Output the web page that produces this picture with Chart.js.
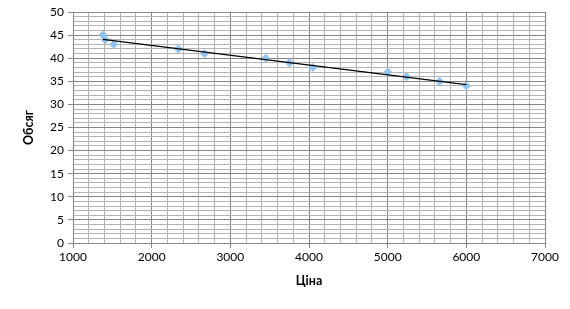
<!DOCTYPE html>
<html>
<head>
<meta charset="utf-8">
<script src="https://cdn.jsdelivr.net/npm/chart.js@4"></script>
<style>
  html, body { margin: 0; padding: 0; background: #fff; }
  #wrap { width: 570px; height: 309px; }
</style>
</head>
<body>
<div id="wrap"><canvas id="chart" width="570" height="309"></canvas></div>
<script>
const prices = [1380, 1410, 1520, 2340, 2670, 3450, 3750, 4050, 5000, 5240, 5660, 6000];
const volumes = [45, 44, 43, 42, 41, 40, 39, 38, 37, 36, 35, 34];
const xTitle = "Ціна";
const yTitle = "Обсяг";

// least squares trend line through the points
function trend(xs, ys) {
  const n = xs.length;
  const mx = xs.reduce((a, b) => a + b, 0) / n;
  const my = ys.reduce((a, b) => a + b, 0) / n;
  let sxy = 0, sxx = 0;
  for (let i = 0; i < n; i++) {
    sxy += (xs[i] - mx) * (ys[i] - my);
    sxx += (xs[i] - mx) * (xs[i] - mx);
  }
  const k = sxy / sxx;
  const b = my - k * mx;
  const x0 = Math.min(...xs), x1 = Math.max(...xs);
  return [{ x: x0, y: k * x0 + b }, { x: x1, y: k * x1 + b }];
}

const points = prices.map((p, i) => ({ x: p, y: volumes[i] }));
const font = { family: "Lato, 'Liberation Sans', sans-serif", size: 12 };

new Chart(document.getElementById("chart"), {
  type: "scatter",
  data: {
    datasets: [
      {
        data: trend(prices, volumes),
        type: "line",
        borderColor: "#000",
        borderWidth: 1.2,
        pointRadius: 0,
        fill: false,
      },
      {
        data: points,
        pointStyle: "rectRot",
        pointRadius: 4,
        backgroundColor: "#8ec4f2",
        borderColor: "#8ec4f2",
        borderWidth: 1,
      },
    ],
  },
  options: {
    responsive: false,
    animation: false,
    layout: { padding: { top: 12, right: 25, bottom: 0, left: 0 } },
    plugins: { legend: { display: false }, tooltip: { enabled: false } },
    scales: {
      x: {
        type: "linear",
        min: 1000,
        max: 7000,
        afterFit: (s) => { s.height = 66; },
        ticks: {
          stepSize: 200,
          autoSkip: false,
          maxRotation: 0,
          color: "#000",
          font: font,
          padding: 2,
          callback: (v) => (v % 1000 === 0 ? v : ""),
        },
        grid: {
          color: (c) => (c.tick && c.tick.value % 1000 === 0 ? "#878787" : "#b4b4b4"),
          tickColor: (c) => (c.tick && c.tick.value % 1000 === 0 ? "#878787" : "rgba(0,0,0,0)"),
          tickLength: 5,
          lineWidth: 1,
        },
        border: { color: "#878787" },
        title: {
          display: true,
          text: xTitle,
          color: "#000",
          font: { family: font.family, size: 12.5, weight: "bold" },
          padding: { top: 0, bottom: 21 },
        },
      },
      y: {
        min: 0,
        max: 50,
        afterFit: (s) => { s.width = 73; },
        ticks: {
          stepSize: 1,
          autoSkip: false,
          color: "#000",
          font: font,
          padding: 4,
          callback: (v) => (v % 5 === 0 ? v : ""),
        },
        grid: {
          color: (c) => (c.tick && c.tick.value % 5 === 0 ? "#878787" : "#b4b4b4"),
          tickColor: (c) => (c.tick && c.tick.value % 5 === 0 ? "#878787" : "rgba(0,0,0,0)"),
          tickLength: 5,
          lineWidth: 1,
        },
        border: { color: "#878787" },
        title: {
          display: true,
          text: yTitle,
          color: "#000",
          font: { family: font.family, size: 12.5, weight: "bold" },
          padding: { top: 21, bottom: 0 },
        },
      },
    },
  },
});
</script>
</body>
</html>
